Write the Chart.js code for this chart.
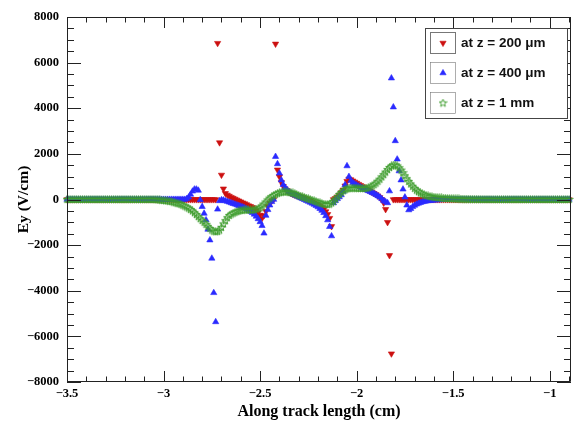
<!DOCTYPE html>
<html>
<head>
<meta charset="utf-8">
<title>Ey along track</title>
<script src="https://cdn.jsdelivr.net/npm/chart.js@4.4.0/dist/chart.umd.min.js"></script>
<style>
  html, body { margin: 0; padding: 0; background: #fff; }
  #wrap { width: 576px; height: 423px; }
</style>
</head>
<body>
<div id="wrap"><canvas id="eyChart" width="576" height="423"></canvas></div>
<script>
// Position along the track (cm), 0.01 cm steps
const trackPos = [
  -3.50,-3.49,-3.48,-3.47,-3.46,-3.45,-3.44,-3.43,-3.42,-3.41,
  -3.40,-3.39,-3.38,-3.37,-3.36,-3.35,-3.34,-3.33,-3.32,-3.31,
  -3.30,-3.29,-3.28,-3.27,-3.26,-3.25,-3.24,-3.23,-3.22,-3.21,
  -3.20,-3.19,-3.18,-3.17,-3.16,-3.15,-3.14,-3.13,-3.12,-3.11,
  -3.10,-3.09,-3.08,-3.07,-3.06,-3.05,-3.04,-3.03,-3.02,-3.01,
  -3.00,-2.99,-2.98,-2.97,-2.96,-2.95,-2.94,-2.93,-2.92,-2.91,
  -2.90,-2.89,-2.88,-2.87,-2.86,-2.85,-2.84,-2.83,-2.82,-2.81,
  -2.80,-2.79,-2.78,-2.77,-2.76,-2.75,-2.74,-2.73,-2.72,-2.71,
  -2.70,-2.69,-2.68,-2.67,-2.66,-2.65,-2.64,-2.63,-2.62,-2.61,
  -2.60,-2.59,-2.58,-2.57,-2.56,-2.55,-2.54,-2.53,-2.52,-2.51,
  -2.50,-2.49,-2.48,-2.47,-2.46,-2.45,-2.44,-2.43,-2.42,-2.41,
  -2.40,-2.39,-2.38,-2.37,-2.36,-2.35,-2.34,-2.33,-2.32,-2.31,
  -2.30,-2.29,-2.28,-2.27,-2.26,-2.25,-2.24,-2.23,-2.22,-2.21,
  -2.20,-2.19,-2.18,-2.17,-2.16,-2.15,-2.14,-2.13,-2.12,-2.11,
  -2.10,-2.09,-2.08,-2.07,-2.06,-2.05,-2.04,-2.03,-2.02,-2.01,
  -2.00,-1.99,-1.98,-1.97,-1.96,-1.95,-1.94,-1.93,-1.92,-1.91,
  -1.90,-1.89,-1.88,-1.87,-1.86,-1.85,-1.84,-1.83,-1.82,-1.81,
  -1.80,-1.79,-1.78,-1.77,-1.76,-1.75,-1.74,-1.73,-1.72,-1.71,
  -1.70,-1.69,-1.68,-1.67,-1.66,-1.65,-1.64,-1.63,-1.62,-1.61,
  -1.60,-1.59,-1.58,-1.57,-1.56,-1.55,-1.54,-1.53,-1.52,-1.51,
  -1.50,-1.49,-1.48,-1.47,-1.46,-1.45,-1.44,-1.43,-1.42,-1.41,
  -1.40,-1.39,-1.38,-1.37,-1.36,-1.35,-1.34,-1.33,-1.32,-1.31,
  -1.30,-1.29,-1.28,-1.27,-1.26,-1.25,-1.24,-1.23,-1.22,-1.21,
  -1.20,-1.19,-1.18,-1.17,-1.16,-1.15,-1.14,-1.13,-1.12,-1.11,
  -1.10,-1.09,-1.08,-1.07,-1.06,-1.05,-1.04,-1.03,-1.02,-1.01,
  -1.00,-0.99,-0.98,-0.97,-0.96,-0.95,-0.94,-0.93,-0.92,-0.91,
  -0.90
];

// Ey (V/cm) at z = 200 um
const ey200um = [
  0,0,0,0,0,0,0,0,0,0,
  0,0,0,0,0,0,0,0,0,0,
  0,0,0,0,0,0,0,0,0,0,
  0,0,0,0,0,0,0,0,0,0,
  0,0,0,0,0,0,0,0,0,0,
  0,0,0,0,0,0,0,0,0,0,
  0,0,0,0,0,0,0,0,0,0,
  0,0,0,0,0,0,0,0,6850,2495,
  1075,470,270,200,150,100,60,20,-20,-60,
  -100,-140,-180,-220,-270,-300,-340,-400,-480,-570,
  -680,-820,-700,-520,-300,-160,-60,0,6820,1300,
  1000,750,580,470,390,320,270,230,200,170,
  150,120,90,50,20,-20,-60,-100,-140,-190,
  -240,-290,-350,-430,-530,-650,-820,-1180,0,50,
  120,200,300,420,600,800,900,870,820,770,
  720,670,620,570,520,470,420,370,320,270,
  220,160,90,0,-150,-430,-1000,-2450,-6760,0,
  0,0,0,0,0,0,0,0,0,0,
  0,0,0,0,0,0,0,0,0,0,
  0,0,0,0,0,0,0,0,0,0,
  0,0,0,0,0,0,0,0,0,0,
  0,0,0,0,0,0,0,0,0,0,
  0,0,0,0,0,0,0,0,0,0,
  0,0,0,0,0,0,0,0,0,0,
  0,0,0,0,0,0,0,0,0,0,
  0,0,0,0,0,0,0,0,0,0,
  0
];

// Ey (V/cm) at z = 400 um
const ey400um = [
  0,0,0,0,0,0,0,0,0,0,
  0,0,0,0,0,0,0,0,0,0,
  0,0,0,0,0,0,0,0,0,0,
  0,0,0,0,0,0,0,0,0,0,
  0,0,0,0,0,0,0,0,0,0,
  0,0,0,0,0,0,0,0,0,0,
  0,0,30,100,220,360,450,450,400,-20,
  -315,-610,-900,-1310,-1780,-2580,-4090,-5365,-430,-60,
  -20,-30,-60,-90,-120,-150,-180,-210,-240,-270,
  -300,-330,-370,-410,-460,-520,-580,-650,-740,-850,
  -980,-1150,-1480,-700,-450,-250,-100,0,1880,1560,
  1150,850,650,520,420,340,280,230,190,150,
  110,70,30,-10,-50,-90,-130,-170,-220,-270,
  -330,-400,-480,-580,-720,-900,-1190,-1600,-150,-50,
  30,110,200,350,640,1470,1000,830,740,680,
  630,580,540,500,460,420,380,340,300,260,
  210,160,100,30,-50,-100,-150,370,5320,4050,
  2570,1765,1250,850,450,100,-250,-460,-400,-320,
  -260,-210,-170,-140,-110,-90,-75,-60,-50,-40,
  -30,-25,-20,-15,-10,-8,-5,-3,0,0,
  0,0,0,0,0,0,0,0,0,0,
  0,0,0,0,0,0,0,0,0,0,
  0,0,0,0,0,0,0,0,0,0,
  0,0,0,0,0,0,0,0,0,0,
  0,0,0,0,0,0,0,0,0,0,
  0,0,0,0,0,0,0,0,0,0,
  0
];

// Ey (V/cm) at z = 1 mm
const ey1mm = [
  0,0,0,0,0,0,0,0,0,0,
  0,0,0,0,0,0,0,0,0,0,
  0,0,0,0,0,0,0,0,0,0,
  0,0,0,0,0,0,0,0,0,0,
  0,0,0,0,0,0,-5,-10,-20,-30,
  -40,-50,-60,-75,-90,-110,-140,-160,-185,-210,
  -250,-290,-330,-380,-440,-500,-580,-660,-750,-840,
  -920,-1000,-1090,-1180,-1270,-1340,-1390,-1415,-1400,-1340,
  -1220,-1070,-930,-800,-700,-640,-600,-560,-530,-500,
  -480,-465,-455,-450,-450,-455,-455,-445,-420,-400,
  -360,-290,-200,-110,-20,60,120,180,230,270,
  300,320,335,340,335,320,300,285,260,220,
  180,150,120,90,60,30,0,-30,-60,-90,
  -120,-150,-175,-200,-215,-220,-200,-150,-80,20,
  120,220,310,380,430,470,490,500,500,500,
  495,490,485,485,490,500,520,550,590,650,
  720,800,890,990,1090,1200,1310,1400,1470,1510,
  1510,1470,1390,1290,1170,1040,910,790,680,580,
  490,410,345,290,245,210,180,155,135,120,
  105,95,85,75,67,60,53,47,42,37,
  33,29,26,23,20,18,16,14,12,10,
  9,8,7,6,5,5,4,4,3,3,
  2,2,1,1,0,0,0,0,0,0,
  0,0,0,0,0,0,0,0,0,0,
  0,0,0,0,0,0,0,0,0,0,
  0,0,0,0,0,0,0,0,0,0,
  0
];

const seriesLabels = ['at z = 200 \u03bcm', 'at z = 400 \u03bcm', 'at z = 1 mm'];
const xTickValues = [-3.5, -3, -2.5, -2, -1.5, -1];
const yTickValues = [-8000, -6000, -4000, -2000, 0, 2000, 4000, 6000, 8000];

const X_MIN = -3.5, X_MAX = -0.89;
const Y_MIN = -8000, Y_MAX = 8000;
const X_MINOR = 0.1, Y_MINOR = 500;

const RED = '#cc1010';
const BLUE = '#2a2aff';
const GREEN = '#3f9d2e';

// open five-pointed star marker
function makeStar(color) {
  const c = document.createElement('canvas');
  c.width = 9; c.height = 9;
  const g = c.getContext('2d');
  g.strokeStyle = color;
  g.lineWidth = 1;
  g.beginPath();
  for (let k = 0; k < 10; k++) {
    const r = k % 2 === 0 ? 4 : 1.7;
    const a = -Math.PI / 2 + k * Math.PI / 5;
    const px = 4.5 + r * Math.cos(a), py = 4.7 + r * Math.sin(a);
    if (k === 0) g.moveTo(px, py); else g.lineTo(px, py);
  }
  g.closePath();
  g.stroke();
  return c;
}
const starMarker = makeStar(GREEN);

function toPoints(ys) {
  return trackPos.map((x, k) => ({ x: x, y: ys[k] }));
}

function minusSign(v) {
  return String(v).replace('-', '\u2212');
}

// frame with inward major/minor ticks on all four sides
const frameTicks = {
  id: 'frameTicks',
  afterDatasetsDraw(chart) {
    const { ctx, chartArea: a, scales } = chart;
    const xs = scales.x, ys = scales.y;
    ctx.save();
    ctx.strokeStyle = '#222';
    ctx.lineWidth = 1;
    ctx.beginPath();
    ctx.rect(a.left + 0.5, a.top + 0.5, a.right - a.left - 1, a.bottom - a.top - 1);

    const xStart = Math.round(X_MIN / X_MINOR), xEnd = Math.floor(X_MAX / X_MINOR + 1e-6);
    for (let k = xStart; k <= xEnd; k++) {
      const v = k * X_MINOR;
      const major = xTickValues.some(t => Math.abs(t - v) < 1e-6);
      const len = major ? 11 : 5.5;
      const px = Math.round(xs.getPixelForValue(v)) + 0.5;
      ctx.moveTo(px, a.bottom); ctx.lineTo(px, a.bottom - len);
      ctx.moveTo(px, a.top); ctx.lineTo(px, a.top + len);
    }
    for (let v = Y_MIN; v <= Y_MAX; v += Y_MINOR) {
      const major = yTickValues.includes(v);
      const len = major ? 14 : 7;
      const py = Math.round(ys.getPixelForValue(v)) + 0.5;
      ctx.moveTo(a.left, py); ctx.lineTo(a.left + len, py);
      ctx.moveTo(a.right, py); ctx.lineTo(a.right - len, py);
    }
    ctx.stroke();
    ctx.restore();
  }
};

// boxed legend in the upper right corner
const boxLegend = {
  id: 'boxLegend',
  afterDraw(chart) {
    const { ctx } = chart;
    const left = 425, top = 28, w = 142, h = 90;
    ctx.save();
    ctx.fillStyle = '#fff';
    ctx.fillRect(left, top, w, h);
    ctx.strokeStyle = '#444';
    ctx.lineWidth = 1;
    ctx.strokeRect(left + 0.5, top + 0.5, w, h);
    ctx.font = 'bold 13.5px "Liberation Sans", Arial, sans-serif';
    ctx.textBaseline = 'middle';
    chart.data.datasets.forEach((ds, k) => {
      const cy = 43 + k * 30;
      ctx.strokeStyle = '#777';
      ctx.strokeRect(430.5, cy - 10.5, 25, 21);
      ctx.fillStyle = ds.pointBackgroundColor;
      ctx.strokeStyle = ds.pointBorderColor;
      ctx.lineWidth = ds.pointBorderWidth;
      Chart.helpers.drawPoint(ctx, {
        pointStyle: ds.pointStyle,
        rotation: ds.pointRotation || 0,
        radius: ds.pointRadius,
        borderWidth: ds.pointBorderWidth
      }, 443, cy);
      ctx.fillStyle = '#111';
      ctx.fillText(seriesLabels[k], 461, cy + 0.5);
    });
    ctx.restore();
  }
};

const tickFont = { family: '"Liberation Serif", "Times New Roman", serif', weight: 'bold', size: 12.5 };
const titleFont = { family: '"Liberation Serif", "Times New Roman", serif', weight: 'bold', size: 16 };

new Chart(document.getElementById('eyChart'), {
  type: 'scatter',
  data: {
    datasets: [
      {
        label: seriesLabels[0],
        data: toPoints(ey200um),
        pointStyle: 'triangle',
        pointRotation: 180,
        pointRadius: 3.6,
        pointBackgroundColor: RED,
        pointBorderColor: RED,
        pointBorderWidth: 0.6,
        order: 2
      },
      {
        label: seriesLabels[1],
        data: toPoints(ey400um),
        pointStyle: 'triangle',
        pointRadius: 3.6,
        pointBackgroundColor: BLUE,
        pointBorderColor: BLUE,
        pointBorderWidth: 0.6,
        order: 1
      },
      {
        label: seriesLabels[2],
        data: toPoints(ey1mm),
        pointStyle: starMarker,
        pointRadius: 4,
        pointBackgroundColor: GREEN,
        pointBorderColor: GREEN,
        pointBorderWidth: 1,
        order: 0
      }
    ]
  },
  options: {
    responsive: false,
    animation: false,
    events: [],
    layout: { padding: { top: 17, right: 1, bottom: 0, left: 0 } },
    plugins: {
      legend: { display: false },
      tooltip: { enabled: false }
    },
    datasets: { scatter: { clip: false } },
    scales: {
      x: {
        type: 'linear',
        min: X_MIN,
        max: X_MAX,
        afterBuildTicks: s => { s.ticks = xTickValues.map(v => ({ value: v })); },
        afterFit: s => { s.height = 41; },
        grid: { display: false, drawTicks: false },
        border: { display: false },
        ticks: { font: tickFont, color: '#000', padding: 4, maxRotation: 0, autoSkip: false, callback: minusSign },
        title: { display: true, text: 'Along track length (cm)', font: titleFont, color: '#000', padding: { top: 0, bottom: 2 } }
      },
      y: {
        type: 'linear',
        min: Y_MIN,
        max: Y_MAX,
        afterBuildTicks: s => { s.ticks = yTickValues.map(v => ({ value: v })); },
        afterFit: s => { s.width = 67; },
        grid: { display: false, drawTicks: false },
        border: { display: false },
        ticks: { font: tickFont, color: '#000', padding: 8, autoSkip: false, callback: minusSign },
        title: { display: true, text: 'Ey (V/cm)', font: { ...titleFont, size: 15.5 }, color: '#000', padding: { top: 15, bottom: 0 } }
      }
    }
  },
  plugins: [frameTicks, boxLegend]
});
</script>
</body>
</html>
